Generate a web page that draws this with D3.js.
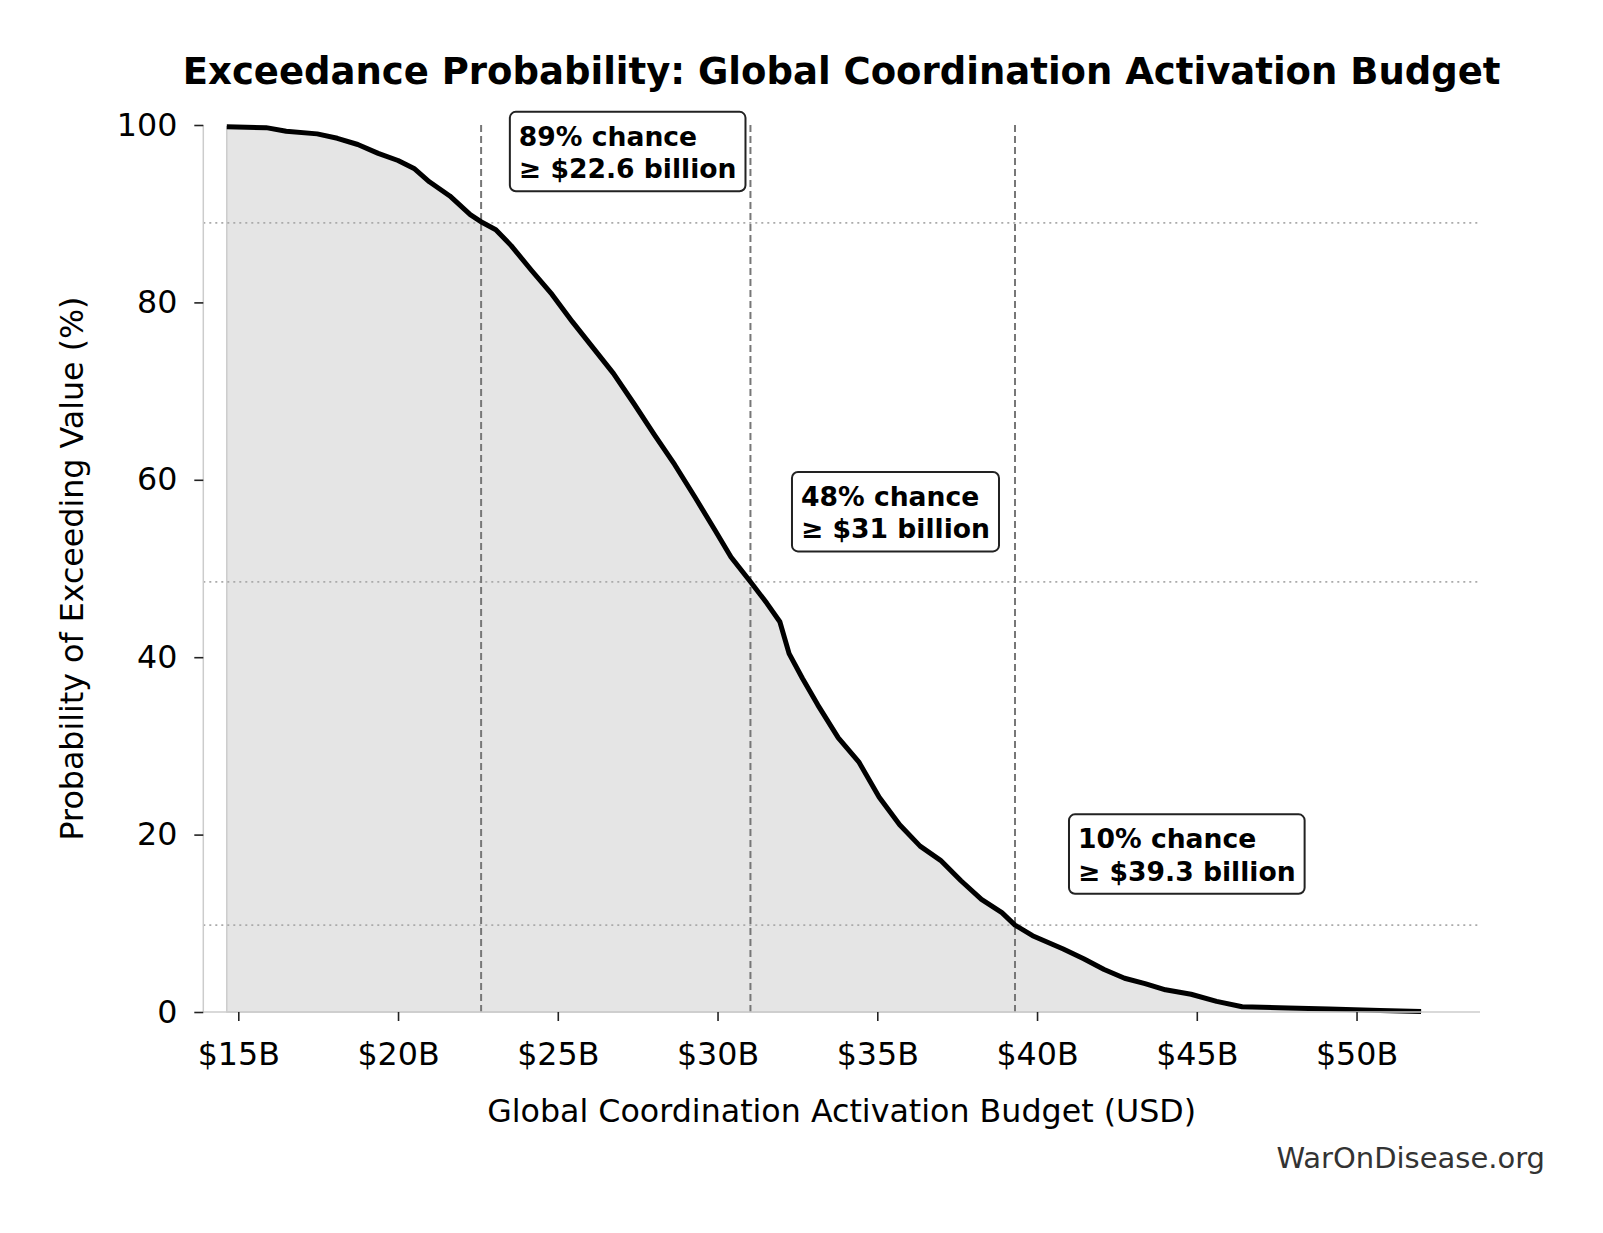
<!DOCTYPE html>
<html>
<head>
<meta charset="utf-8">
<script src="https://cdn.jsdelivr.net/npm/d3@7"></script>
<style>
  html, body { margin: 0; padding: 0; background: #fff; }
  svg { display: block; font-family: "DejaVu Sans", sans-serif; }
</style>
</head>
<body>
<svg id="chart" width="1603" height="1233"></svg>
<script>
// budget values in billions USD, exceedance probability in %
const budget = [14.64, 15.87, 16.5, 17.47, 18.1, 18.74, 19.38, 20.0, 20.5, 20.98, 21.62, 22.26,
  22.64, 23.06, 23.54, 24.18, 24.82, 25.46, 26.1, 26.74, 27.38, 28.02, 28.66, 29.3, 29.94,
  30.42, 31.03, 31.54, 31.95, 32.24, 32.66, 33.14, 33.78, 34.42, 35.06, 35.7, 36.34, 36.98, 37.62,
  38.26, 38.9, 39.31, 39.86, 40.82, 41.46, 42.1, 42.74, 43.38, 44.02, 44.82, 45.62, 46.42,
  47.86, 49.14, 50.74, 52.02];
const exceed = [99.8, 99.7, 99.3, 99.0, 98.5, 97.8, 96.8, 96.0, 95.1, 93.6, 92.0, 89.9,
  89.0, 88.2, 86.4, 83.6, 80.9, 77.8, 74.9, 72.0, 68.6, 65.1, 61.7, 58.0, 54.2,
  51.3, 48.5, 46.1, 44.0, 40.4, 37.6, 34.6, 30.9, 28.2, 24.2, 21.1, 18.7, 17.1, 14.8,
  12.7, 11.2, 9.8, 8.6, 7.1, 6.0, 4.8, 3.8, 3.2, 2.5, 2.0, 1.2, 0.6,
  0.45, 0.35, 0.17, 0.05];

// annotated percentiles
const markValue = [22.6, 31.03, 39.31];
const markProb = [88.96, 48.5, 9.8];
const markLines = [["89% chance", "\u2265 $22.6 billion"], ["48% chance", "\u2265 $31 billion"], ["10% chance", "\u2265 $39.3 billion"]];
const labelX = [23.5, 32.33, 41.0];
const labelY = [96.9, 56.3, 17.7];

const xTicks = [15, 20, 25, 30, 35, 40, 45, 50];
const yTicks = [0, 20, 40, 60, 80, 100];

const svg = d3.select("#chart");
const m = { left: 203.3, right: 1480, top: 125, bottom: 1012 };

const x = d3.scaleLinear().domain([13.905, 53.864]).range([m.left, m.right]);
const y = d3.scaleLinear().domain([0, 100]).range([m.bottom, m.top]);

const pts = budget.map((b, i) => [b, exceed[i]]);

// fill under curve
svg.append("path")
  .datum(pts)
  .attr("d", d3.area().x(d => x(d[0])).y0(y(0)).y1(d => y(d[1])))
  .attr("fill", "#e5e5e5")
  .attr("stroke", "#cccccc")
  .attr("stroke-width", 1.5);

// reference lines
markProb.forEach(p => {
  svg.append("line")
    .attr("x1", m.left).attr("x2", m.right)
    .attr("y1", y(p)).attr("y2", y(p))
    .attr("stroke", "#aaaaaa").attr("stroke-width", 1.8)
    .attr("stroke-dasharray", "2,4");
});
markValue.forEach(v => {
  svg.append("line")
    .attr("x1", x(v)).attr("x2", x(v))
    .attr("y1", m.top).attr("y2", m.bottom)
    .attr("stroke", "#777777").attr("stroke-width", 2)
    .attr("stroke-dasharray", "7,4");
});

// curve
svg.append("path")
  .datum(pts)
  .attr("d", d3.line().x(d => x(d[0])).y(d => y(d[1])))
  .attr("fill", "none")
  .attr("stroke", "#000")
  .attr("stroke-width", 5)
  .attr("stroke-linejoin", "round")
  .attr("stroke-linecap", "butt");

// axes
const xAxis = svg.append("g")
  .attr("transform", `translate(0,${m.bottom})`)
  .call(d3.axisBottom(x).tickValues(xTicks).tickFormat(d => `$${d}B`).tickSize(9).tickPadding(21));
const yAxis = svg.append("g")
  .attr("transform", `translate(${m.left},0)`)
  .call(d3.axisLeft(y).tickValues(yTicks).tickSize(9).tickPadding(17));

[xAxis, yAxis].forEach(g => {
  g.select(".domain").attr("stroke", "#cccccc").attr("stroke-width", 1.5);
  g.selectAll(".tick line").attr("stroke", "#222").attr("stroke-width", 1.6);
  g.selectAll(".tick text")
    .attr("fill", "#000")
    .style("font-family", "DejaVu Sans")
    .style("font-size", "31.7px");
});
xAxis.select(".domain").attr("d", `M${m.left},0H${m.right}`);
yAxis.select(".domain").attr("d", `M0,${m.top}V${m.bottom}`);

// annotation boxes
markLines.forEach((lines, i) => {
  const g = svg.append("g");
  const tx = x(labelX[i]) + 9;
  const t = g.append("text")
    .attr("x", tx)
    .attr("y", y(labelY[i]))
    .style("font-family", "DejaVu Sans")
    .style("font-weight", "bold")
    .style("font-size", "26.6px")
    .attr("fill", "#000");
  t.append("tspan").attr("x", tx).attr("dy", "-0.25em").text(lines[0]);
  t.append("tspan").attr("x", tx).attr("dy", "1.22em").text(lines[1]);
  const bb = t.node().getBBox();
  g.insert("rect", "text")
    .attr("x", bb.x - 9).attr("y", bb.y - 9)
    .attr("width", bb.width + 18).attr("height", bb.height + 16)
    .attr("rx", 6).attr("ry", 6)
    .attr("fill", "#fff").attr("stroke", "#222").attr("stroke-width", 2);
});

// titles
svg.append("text")
  .attr("x", (m.left + m.right) / 2).attr("y", 84)
  .attr("text-anchor", "middle")
  .style("font-weight", "bold").style("font-size", "37px")
  .text("Exceedance Probability: Global Coordination Activation Budget");

svg.append("text")
  .attr("x", (m.left + m.right) / 2).attr("y", 1122)
  .attr("text-anchor", "middle")
  .style("font-size", "31.7px")
  .text("Global Coordination Activation Budget (USD)");

svg.append("text")
  .attr("transform", `translate(83,${(m.top + m.bottom) / 2}) rotate(-90)`)
  .attr("text-anchor", "middle")
  .style("font-size", "31.7px")
  .text("Probability of Exceeding Value (%)");

svg.append("text")
  .attr("x", 1545).attr("y", 1168)
  .attr("text-anchor", "end")
  .attr("fill", "#333")
  .style("font-size", "29px")
  .text("WarOnDisease.org");
</script>
</body>
</html>
